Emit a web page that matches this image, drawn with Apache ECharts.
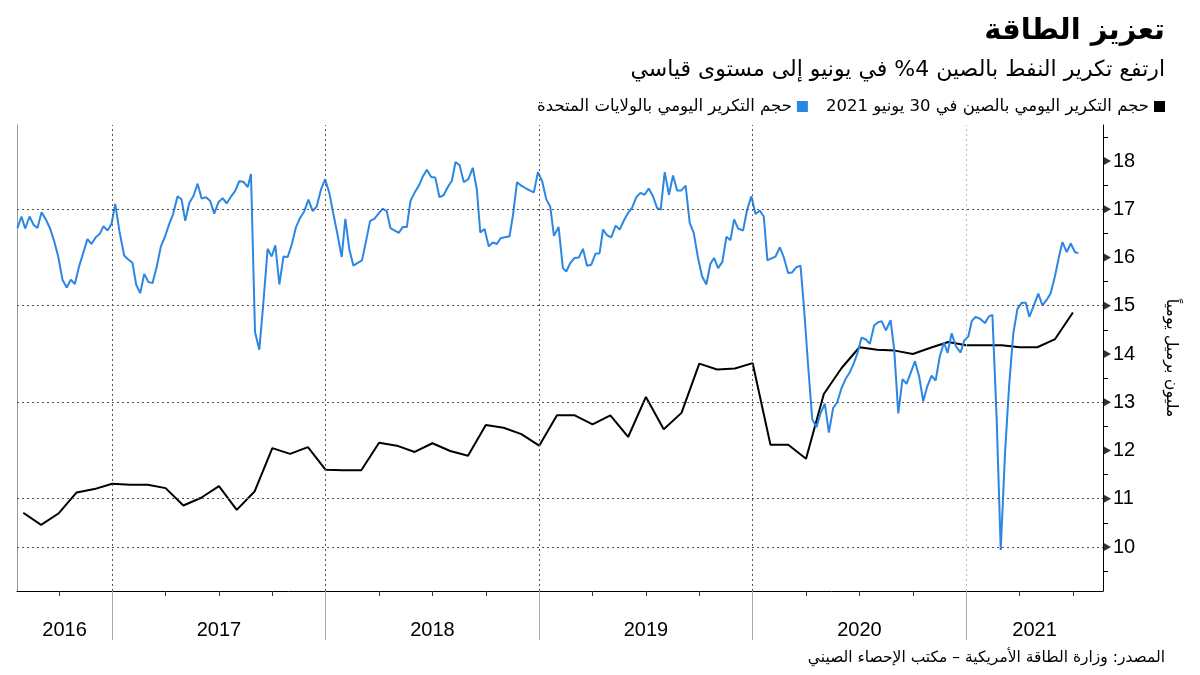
<!DOCTYPE html>
<html>
<head>
<meta charset="utf-8">
<script src="https://cdn.jsdelivr.net/npm/echarts@6/dist/echarts.min.js"></script>
<style>html,body{margin:0;padding:0;background:#fff}#c{width:1200px;height:675px}</style>
</head>
<body>
<div id="c"></div>
<script>
// ---------- Data ----------
const titleText = 'تعزيز الطاقة';
const subtitleText = 'ارتفع تكرير النفط بالصين 4% في يونيو إلى مستوى قياسي';
const sourceText = 'المصدر: وزارة الطاقة الأمريكية – مكتب الإحصاء الصيني';
const yAxisName = 'مليون برميل يومياً';
const chinaName = 'حجم التكرير اليومي بالصين في 30 يونيو 2021';
const usName = 'حجم التكرير اليومي بالولايات المتحدة';

// x range in decimal years
const xMin = 2016.554, xMax = 2021.641;
const yMin = 9.088, yMax = 18.746;
const yearLabels = [2016, 2017, 2018, 2019, 2020, 2021];
const yTickLabels = [10, 11, 12, 13, 14, 15, 16, 17, 18];
const yMinorTicks = [9.5, 10.5, 11.5, 12.5, 13.5, 14.5, 15.5, 16.5, 17.5, 18.5];
const hGridValues = [10, 11, 13, 15, 17];
const yearBoundaries = [2017, 2018, 2019, 2020, 2021];

// China monthly (month-end)
const chinaMonths = ['2016-07','2016-08','2016-09','2016-10','2016-11','2016-12',
 '2017-01','2017-02','2017-03','2017-04','2017-05','2017-06','2017-07','2017-08','2017-09','2017-10','2017-11','2017-12',
 '2018-01','2018-02','2018-03','2018-04','2018-05','2018-06','2018-07','2018-08','2018-09','2018-10','2018-11','2018-12',
 '2019-01','2019-02','2019-03','2019-04','2019-05','2019-06','2019-07','2019-08','2019-09','2019-10','2019-11','2019-12',
 '2020-01','2020-02','2020-03','2020-04','2020-05','2020-06','2020-07','2020-08','2020-09','2020-10','2020-11','2020-12',
 '2021-01','2021-02','2021-03','2021-04','2021-05','2021-06'];
const chinaValues = [10.71,10.46,10.70,11.13,11.20,11.31,
 11.29,11.29,11.22,10.86,11.02,11.26,10.77,11.15,12.05,11.93,12.07,11.60,
 11.59,11.59,12.16,12.10,11.97,12.15,11.99,11.89,12.53,12.47,12.34,12.10,
 12.73,12.73,12.54,12.73,12.28,13.11,12.44,12.78,13.80,13.68,13.70,13.81,
 12.12,12.12,11.83,13.17,13.71,14.14,14.09,14.07,14.00,14.13,14.25,14.18,
 14.18,14.18,14.14,14.14,14.31,14.86];

// US weekly (decimal year, value)
const usDates = [2016.556,2016.575,2016.592,2016.613,2016.631,2016.650,2016.669,2016.689,2016.709,2016.728,2016.747,2016.767,2016.787,2016.806,2016.825,2016.845,2016.864,2016.884,2016.903,2016.923,2016.942,2016.959,2016.978,2016.997,
 2017.014,2017.034,2017.056,2017.075,2017.095,2017.112,2017.131,2017.150,2017.170,2017.189,2017.209,2017.228,2017.247,2017.266,2017.286,2017.306,2017.325,2017.342,2017.361,2017.381,2017.400,2017.419,2017.439,2017.459,2017.478,
 2017.497,2017.517,2017.536,2017.556,2017.575,2017.595,2017.614,2017.635,2017.650,2017.669,2017.689,2017.708,2017.728,2017.747,2017.764,2017.783,2017.802,2017.822,2017.841,2017.861,2017.880,2017.900,2017.919,2017.939,2017.958,2017.978,2017.997,
 2018.017,2018.036,2018.056,2018.075,2018.092,2018.111,2018.130,2018.150,2018.170,2018.189,2018.208,2018.228,2018.249,2018.267,2018.286,2018.303,2018.322,2018.342,2018.361,2018.380,
 2018.397,2018.416,2018.439,2018.455,2018.474,2018.494,2018.513,2018.533,2018.552,2018.572,2018.591,2018.608,2018.627,2018.647,2018.669,2018.689,2018.708,2018.724,2018.744,2018.764,2018.783,2018.802,2018.819,2018.839,2018.861,2018.877,2018.896,2018.916,2018.935,2018.955,2018.975,2018.994,
 2019.014,2019.033,2019.052,2019.069,2019.091,2019.111,2019.127,2019.146,2019.166,2019.186,2019.205,2019.224,2019.244,2019.264,2019.283,
 2019.299,2019.318,2019.338,2019.358,2019.377,2019.396,2019.416,2019.435,2019.455,2019.474,2019.494,2019.513,2019.533,2019.552,2019.569,2019.588,2019.608,2019.627,2019.646,2019.666,2019.686,2019.705,2019.724,2019.744,2019.763,2019.783,2019.802,2019.819,2019.838,2019.858,2019.877,2019.896,2019.913,2019.932,2019.955,2019.974,2019.994,
 2020.013,2020.033,2020.052,2020.069,2020.088,2020.107,2020.127,2020.146,2020.166,
 2020.185,2020.205,2020.224,2020.240,2020.260,2020.279,2020.299,2020.318,2020.338,2020.357,2020.377,2020.396,2020.416,2020.435,2020.455,2020.474,2020.491,2020.510,2020.530,2020.549,2020.569,2020.588,2020.604,2020.624,2020.646,2020.663,2020.682,2020.702,2020.721,2020.741,2020.760,2020.780,2020.799,2020.818,2020.838,2020.857,2020.877,2020.896,2020.913,2020.932,2020.952,2020.974,2020.991,2021.010,
 2021.026,2021.044,2021.065,2021.088,2021.107,2021.123,2021.143,2021.162,2021.182,2021.201,2021.221,2021.240,2021.260,2021.279,2021.296,2021.318,2021.338,2021.357,2021.377,2021.396,2021.416,2021.435,2021.451,2021.471,2021.490,2021.510,2021.526];
const usValues = [16.61,16.85,16.60,16.85,16.68,16.61,16.94,16.79,16.60,16.34,16.02,15.54,15.38,15.54,15.45,15.82,16.09,16.38,16.28,16.42,16.49,16.65,16.56,16.70,
 17.11,16.54,16.04,15.96,15.89,15.44,15.26,15.66,15.49,15.47,15.82,16.23,16.43,16.68,16.91,17.27,17.20,16.76,17.13,17.28,17.53,17.22,17.25,17.17,16.91,
 17.14,17.23,17.12,17.26,17.37,17.58,17.57,17.46,17.73,14.45,14.09,15.06,16.18,16.02,16.25,15.44,16.02,16.01,16.27,16.63,16.82,16.96,17.20,16.96,17.06,17.41,17.62,
 17.34,16.90,16.46,16.01,16.80,16.16,15.83,15.89,15.94,16.34,16.76,16.80,16.92,17.01,16.96,16.61,16.56,16.51,16.63,16.63,
 17.17,17.34,17.51,17.68,17.82,17.67,17.66,17.25,17.29,17.46,17.59,17.98,17.91,17.56,17.63,17.86,17.41,16.52,16.59,16.23,16.31,16.28,16.40,16.42,16.44,16.87,17.56,17.49,17.44,17.39,17.35,17.77,
 17.58,17.21,17.05,16.45,16.63,15.78,15.71,15.89,15.99,16.00,16.18,15.83,15.85,16.08,16.09,
 16.58,16.46,16.42,16.66,16.58,16.76,16.92,17.03,17.25,17.34,17.30,17.43,17.27,17.03,16.99,17.77,17.30,17.70,17.39,17.39,17.49,16.72,16.51,15.99,15.61,15.44,15.87,15.99,15.78,15.91,16.43,16.36,16.79,16.60,16.56,16.99,17.27,
 16.90,16.97,16.85,15.94,15.98,16.02,16.21,16.00,15.68,
 15.69,15.80,15.83,14.99,13.74,12.65,12.48,12.77,12.97,12.37,12.88,13.00,13.29,13.48,13.62,13.81,14.02,14.34,14.30,14.21,14.59,14.66,14.68,14.49,14.70,14.09,12.77,13.48,13.38,13.62,13.85,13.53,13.02,13.33,13.55,13.45,13.96,14.24,14.02,14.43,14.16,14.03,14.28,14.36,
 14.68,14.77,14.73,14.64,14.78,14.81,12.64,9.94,11.94,13.33,14.43,14.93,15.06,15.06,14.77,15.02,15.25,15.01,15.12,15.26,15.61,16.02,16.32,16.11,16.29,16.11,16.09];

// ---------- Build ----------
const monthEnd = s => { const [y, m] = s.split('-').map(Number); return y + m / 12; };
const chinaData = chinaMonths.map((m, i) => [monthEnd(m), chinaValues[i]]);
const usData = usDates.map((d, i) => [d, usValues[i]]);
const quarterTicks = [];
for (let y = 2016; y <= 2021; y++) [0.25, 0.5, 0.75].forEach(q => { const v = y + q; if (v > xMin && v < xMax) quarterTicks.push(v); });
// centre of the visible part of each year
const yearCentres = yearLabels.map(y => (Math.max(y, xMin) + Math.min(y + 1, xMax)) / 2);

const ARFONT = '"DejaVu Sans", "Noto Sans", sans-serif';
const NUMFONT = '"Liberation Sans", Arial, sans-serif';

const chart = echarts.init(document.getElementById('c'), null, { renderer: 'canvas' });
chart.setOption({
  backgroundColor: '#fff',
  animation: false,
  title: [
    { text: titleText, right: 30, top: 12, textStyle: { fontFamily: ARFONT, fontSize: 29, fontWeight: 'bold', color: '#000' } },
    { text: subtitleText, right: 30, top: 54, textStyle: { fontFamily: ARFONT, fontSize: 22, fontWeight: 'normal', color: '#000' } },
    { text: sourceText, right: 30, top: 645, textStyle: { fontFamily: ARFONT, fontSize: 15.5, fontWeight: 'normal', color: '#000' } }
  ],
  legend: {
    right: 30, top: 93, align: 'right', icon: 'rect', itemWidth: 11, itemHeight: 11, itemGap: 18, itemStyle: { borderWidth: 0 },
    textStyle: { fontFamily: ARFONT, fontSize: 16.5, color: '#000', padding: [0, 0, 0, 0] },
    data: [usName, chinaName]
  },
  grid: { left: 17, right: 97, top: 125, bottom: 84, containLabel: false },
  xAxis: [
    {
      type: 'value', min: xMin, max: xMax, position: 'bottom',
      axisLine: { show: true, lineStyle: { color: '#000', width: 1 } },
      axisTick: { show: true, customValues: quarterTicks, length: 5, lineStyle: { color: '#333', width: 1 } },
      axisLabel: { show: true, customValues: yearCentres, formatter: v => String(Math.floor(v)), margin: 29,
        fontFamily: NUMFONT, fontSize: 20, color: '#000' },
      splitLine: { show: false }
    },
    {
      type: 'value', min: xMin, max: xMax, position: 'bottom',
      axisLine: { show: false },
      axisTick: { show: true, customValues: yearBoundaries, length: 49, lineStyle: { color: '#aaa', width: 1 } },
      axisLabel: { show: false },
      splitLine: { show: false }
    }
  ],
  yAxis: [
    {
      type: 'value', min: yMin, max: yMax, position: 'right',
      axisLine: { show: true, lineStyle: { color: '#000', width: 1 } },
      axisTick: { show: true, customValues: yMinorTicks, length: 5, lineStyle: { color: '#000', width: 1 } },
      axisLabel: { show: true, customValues: yTickLabels, margin: 10, fontFamily: NUMFONT, fontSize: 20, color: '#000' },
      splitLine: { show: false },
      name: yAxisName, nameLocation: 'middle', nameRotate: -90, nameGap: 60,
      nameTextStyle: { fontFamily: ARFONT, fontSize: 16, color: '#000' }
    },
    {
      type: 'value', min: yMin, max: yMax, position: 'left',
      axisLine: { show: true, lineStyle: { color: '#999', width: 1 } },
      axisTick: { show: false }, axisLabel: { show: false }, splitLine: { show: false }
    }
  ],
  series: [
    {
      name: chinaName, type: 'line', data: chinaData, showSymbol: false, symbol: 'none',
      lineStyle: { color: '#000', width: 2 }, itemStyle: { color: '#000' }, z: 3,
      markLine: {
        silent: true, symbol: 'none', animation: false,
        label: { show: false },
        lineStyle: { color: '#555', width: 1, type: [2, 3] },
        data: hGridValues.map(v => ({ yAxis: v }))
          .concat(yearBoundaries.map(y => ({ xAxis: y, lineStyle: { color: y === 2021 ? '#bbb' : '#555', type: [2, 3], width: 1 } })))
      }
    },
    {
      name: usName, type: 'line', data: usData, showSymbol: false, symbol: 'none',
      lineStyle: { color: '#2b87e3', width: 2 }, itemStyle: { color: '#2b87e3' }, z: 4
    },
    {
      name: 'ticks', type: 'scatter', data: yTickLabels.map(v => [xMax, v]),
      symbol: 'triangle', symbolSize: [9, 8], symbolRotate: -90, symbolOffset: [4, 0],
      itemStyle: { color: '#000' }, clip: false, silent: true, z: 10
    }
  ]
});
</script>
</body>
</html>
